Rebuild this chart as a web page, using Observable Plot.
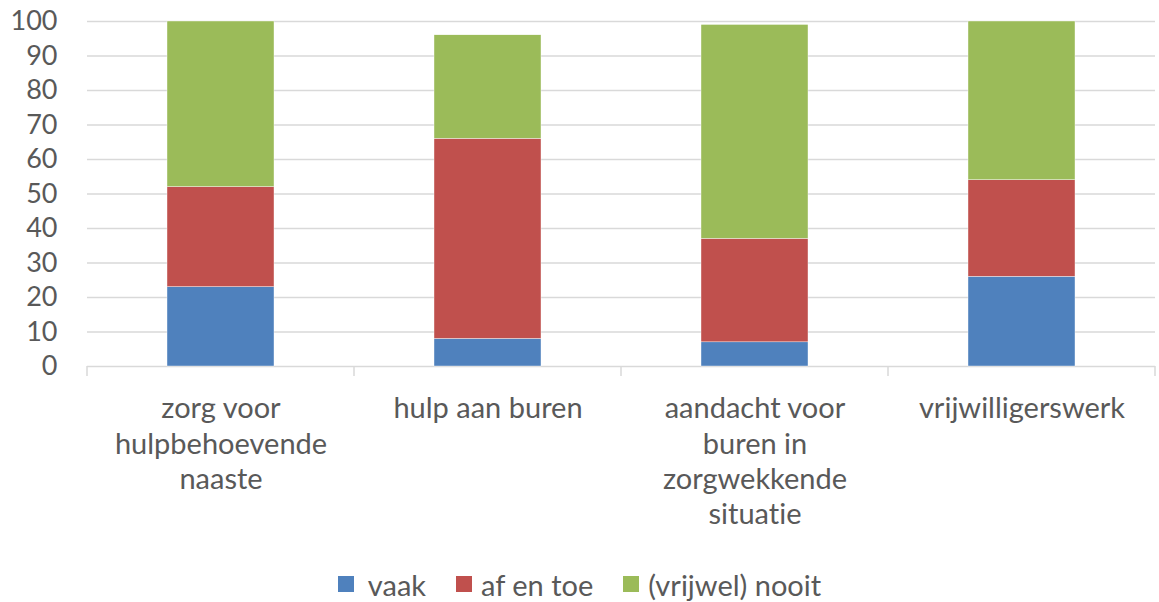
<!DOCTYPE html>
<html>
<head>
<meta charset="utf-8">
<script src="https://cdn.jsdelivr.net/npm/d3@7"></script>
<script src="https://cdn.jsdelivr.net/npm/@observablehq/plot@0.6"></script>
<style>
  html, body { margin: 0; padding: 0; background: #fff; }
  #chart { width: 1159px; height: 540px; }
  svg text { font-variant-ligatures: none; }
  .legend { display: flex; justify-content: center; align-items: center; height: 62px; box-sizing: border-box;
    padding-top: 26px; font-family: Lato, sans-serif; font-size: 29px; color: #595959; font-variant-ligatures: none; }
  .legend .item { display: flex; align-items: center; margin: 0 15px; }
  .legend .sw { width: 16px; height: 16px; margin-right: 9px; }
  .legend .item:first-child .sw { margin-right: 14px; }
</style>
</head>
<body>
<div id="chart"></div>
<script>
const categories = ["zorg voor hulpbehoevende naaste", "hulp aan buren", "aandacht voor buren in zorgwekkende situatie", "vrijwilligerswerk"];
const categoryLabels = ["zorg voor\nhulpbehoevende\nnaaste", "hulp aan buren", "aandacht voor\nburen in\nzorgwekkende\nsituatie", "vrijwilligerswerk"];
const seriesNames = ["vaak", "af en toe", "(vrijwel) nooit"];
const seriesColors = ["#4f81bd", "#c0504d", "#9bbb59"];
const vaak = [23, 8, 7, 26];
const afEnToe = [29, 58, 30, 28];
const nooit = [48, 30, 62, 46];
const yTicks = [0, 10, 20, 30, 40, 50, 60, 70, 80, 90, 100];

const seriesValues = [vaak, afEnToe, nooit];
const data = [];
seriesNames.forEach((s, si) => categories.forEach((c, ci) => data.push({category: c, series: s, value: seriesValues[si][ci]})));
const labelOf = new Map(categories.map((c, i) => [c, categoryLabels[i]]));

function boundaryTicks(index, scales, values, dims) {
  const x = scales.x, y = scales.y;
  const step = x.step(), bw = x.bandwidth();
  const y0 = y(0);
  const g = d3.create("svg:g");
  const xs = categories.map(c => x(c) - (step - bw) / 2);
  xs.push(xs[xs.length - 1] + step);
  xs.forEach(px => g.append("line").attr("x1", px).attr("x2", px).attr("y1", y0).attr("y2", y0 + 10)
    .attr("stroke", "#d9d9d9").attr("stroke-width", 1.5));
  return g.node();
}

const chart = Plot.plot({
  width: 1159,
  height: 540,
  marginTop: 21,
  marginBottom: 174,
  marginLeft: 87,
  marginRight: 4,
  style: {fontFamily: "Lato, sans-serif", background: "#fff"},
  x: {domain: categories, paddingInner: 0.6, paddingOuter: 0.3, label: null},
  y: {domain: [0, 100], label: null},
  color: {domain: seriesNames, range: seriesColors},
  marks: [
    Plot.ruleY(yTicks, {stroke: "#d9d9d9", strokeWidth: 1.5}),
    Plot.barY(data, {x: "category", y: "value", fill: "series", order: seriesNames, stroke: "#fff", strokeWidth: 0.4}),
    Plot.ruleY([0], {stroke: "#d9d9d9", strokeWidth: 1.5, render: boundaryTicks}),
    Plot.axisY({ticks: yTicks, tickSize: 0, tickPadding: 30, fontSize: 27, fill: "#595959", label: null}),
    Plot.axisX({tickSize: 0, tickPadding: 27, fontSize: 29, fill: "#595959", lineHeight: 1.21, lineAnchor: "top",
      tickFormat: d => labelOf.get(d), label: null})
  ]
});
document.getElementById("chart").appendChild(chart);

const legend = d3.select("body").append("div").attr("class", "legend");
seriesNames.forEach((s, i) => {
  const it = legend.append("div").attr("class", "item");
  it.append("div").attr("class", "sw").style("background", seriesColors[i]);
  it.append("span").text(s);
});
</script>
</body>
</html>
